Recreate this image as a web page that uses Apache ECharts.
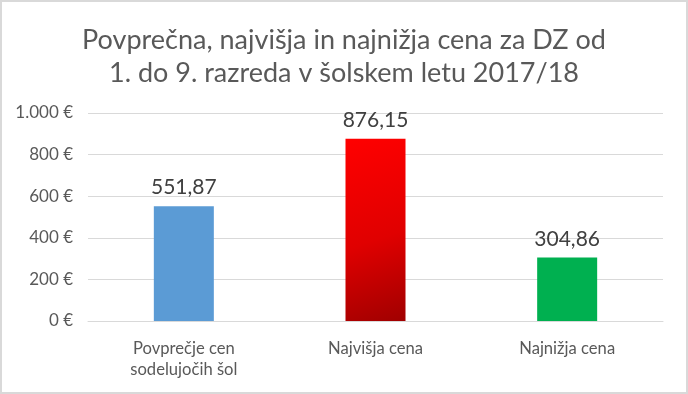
<!DOCTYPE html>
<html><head><meta charset="utf-8">
<script src="https://cdn.jsdelivr.net/npm/echarts@6/dist/echarts.min.js"></script>
<style>
html,body{margin:0;padding:0;background:#fff;}
#wrap{width:688px;height:394px;box-sizing:border-box;border:2px solid #d9d9d9;background:#fff;}
#c{width:684px;height:390px;}
</style></head>
<body><div id="wrap"><div id="c"></div></div>
<script>
const titleLines = ['Povprečna, najvišja in najnižja cena za DZ od', '1. do 9. razreda v šolskem letu 2017/18'];
const categories = ['Povprečje cen\nsodelujočih šol', 'Najvišja cena', 'Najnižja cena'];
const values = [551.87, 876.15, 304.86];
const valueLabels = ['551,87', '876,15', '304,86'];
const yTicks = [0, 200, 400, 600, 800, 1000];
const yTickLabels = ['0 €', '200 €', '400 €', '600 €', '800 €', '1.000 €'];

const font = 'Lato, "Open Sans", sans-serif';
const colors = [
  '#5b9bd5',
  new echarts.graphic.LinearGradient(0, 0, 1, 1, [{offset: 0, color: '#ff0000'}, {offset: 0.55, color: '#e00000'}, {offset: 1, color: '#a00000'}]),
  '#00b050'
];
const chart = echarts.init(document.getElementById('c'));
chart.setOption({
  animation: false,
  title: {
    text: titleLines.join('\n'),
    left: 'center', top: 17,
    textStyle: {fontFamily: font, fontSize: 27, fontWeight: 'normal', color: '#595959', lineHeight: 33}
  },
  grid: {left: 86, right: 23, top: 111, bottom: 71},
  xAxis: {
    type: 'category', data: categories,
    axisLine: {lineStyle: {color: '#d9d9d9'}},
    axisTick: {show: false},
    axisLabel: {fontFamily: font, fontSize: 16.6, color: '#595959', lineHeight: 21, margin: 17}
  },
  yAxis: {
    type: 'value', min: 0, max: 1000, interval: 200,
    axisLine: {show: false}, axisTick: {show: false},
    splitLine: {lineStyle: {color: '#d9d9d9'}},
    axisLabel: {fontFamily: font, fontSize: 17, color: '#595959', margin: 15,
      formatter: v => yTickLabels[yTicks.indexOf(v)]}
  },
  series: [{
    type: 'bar', barWidth: 60,
    data: values.map((v, i) => ({value: v, itemStyle: {color: colors[i]}})),
    label: {show: true, position: 'top', distance: 8, fontFamily: font, fontSize: 21, color: '#404040',
      formatter: p => valueLabels[p.dataIndex]}
  }]
});
</script></body></html>
